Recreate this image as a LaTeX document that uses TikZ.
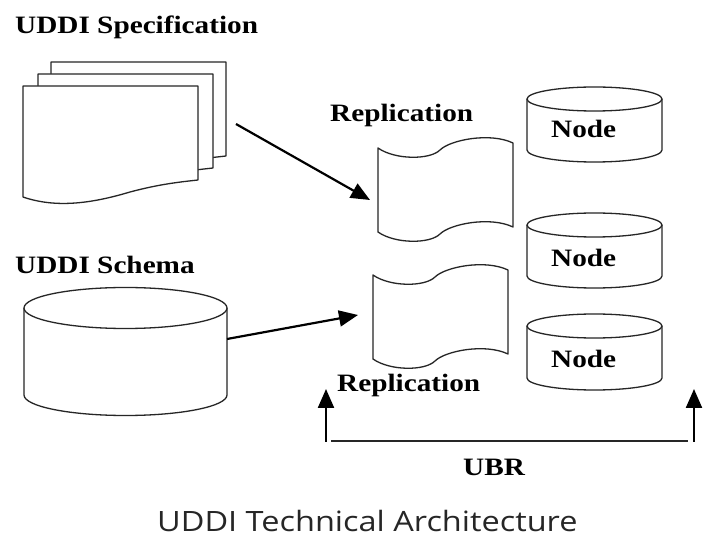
\documentclass[tikz,border=0pt]{standalone}
\usepackage{fontspec}
\setmainfont{Liberation Serif}
\newfontfamily\capfont{Open Sans}
\usetikzlibrary{arrows.meta}
\newcommand\sx[1]{\scalebox{1.17}[1]{#1}}
\newcommand\capsx[1]{\scalebox{1.16}[1]{#1}}
\begin{document}
\begin{tikzpicture}[x=1pt,y=-1pt,
  lbl/.style={anchor=base west,inner sep=0pt,font=\fontsize{25}{25}\selectfont\bfseries},
  shp/.style={draw=black!85,line width=1.3pt,fill=white,line join=round},
  arr/.style={draw=black,line width=2.2pt,-{Triangle[length=19pt,width=16pt]}},
  hit/.style={draw=none,inner sep=0pt,outer sep=0pt}
]
\useasboundingbox (0,0) rectangle (713,537);
\fill[white] (0,0) rectangle (713,537);

% ---- UDDI Specification: stacked pages
\foreach \dx/\dy in {28/-24,15/-12,0/0}{
  \begin{scope}[shift={(\dx,\dy)}]
    \draw[shp] (23,86) -- (23,197) .. controls (55,208) and (90,204) .. (130,192)
      .. controls (160,184) and (180,182) .. (198,180) -- (198,86) -- cycle;
  \end{scope}
}
\node[hit,minimum width=203pt,minimum height=146pt] (spec) at (124.5,135) {};
\node[lbl] (spectxt) at (15,34) {\sx{UDDI Specification}};

% ---- UDDI Schema cylinder
\draw[shp] (24,308) -- (24,395) arc[start angle=180,end angle=0,x radius=101.5,y radius=20.5] -- (227,308);
\draw[shp] (125.5,308) ellipse[x radius=101.5,y radius=20.5];
\node[hit,minimum width=203pt,minimum height=127pt] (schema) at (125.5,351.5) {};
\node[lbl] (schematxt) at (15,274) {\sx{UDDI Schema}};

% ---- Replication tapes
\foreach \dx/\dy in {0/0,-5/127}{
  \begin{scope}[shift={(\dx,\dy)}]
    \draw[shp] (378,148) .. controls (395,160) and (430,160) .. (440,150)
      .. controls (450,140) and (490,132) .. (513,143) -- (513,227)
      .. controls (490,216) and (450,224) .. (440,234)
      .. controls (430,244) and (395,244) .. (378,232) -- cycle;
  \end{scope}
}
\node[hit,minimum width=135pt,minimum height=103pt] (rep1) at (445.5,189.5) {};
\node[hit,minimum width=135pt,minimum height=103pt] (rep2) at (440.5,316.5) {};
\node[lbl] (rep1txt) at (330,122) {\sx{Replication}};
\node[lbl] (rep2txt) at (337,392) {\sx{Replication}};

% ---- Node cylinders
\foreach \ty/\by/\tb [count=\i] in {99/150/138,225/276/267,326/378/368}{
  \draw[shp] (527,\ty) -- (527,\by) arc[start angle=180,end angle=0,x radius=67.5,y radius=12] -- (662,\ty);
  \draw[shp] (594.5,\ty) ellipse[x radius=67.5,y radius=12];
  \node[lbl] (node\i) at (551,\tb) {\sx{Node}};
}

% ---- connectors
\draw[arr] ([shift={(10,-11)}]spec.east) -- ([shift={(-8,10.5)}]rep1.west);
\draw[arr] ([shift={(0,-12.5)}]schema.east) -- ([shift={(-15,-1.5)}]rep2.west);

% ---- UBR
\coordinate (ubrL) at (326,442);
\coordinate (ubrLt) at (326,389);
\coordinate (ubrR) at (694,442);
\coordinate (ubrRt) at (694,389);
\coordinate (lineL) at (331,441);
\coordinate (lineR) at (688,441);
\draw[arr] (ubrL) -- (ubrLt);
\draw[arr] (ubrR) -- (ubrRt);
\draw[draw=black!85,line width=1.6pt] (lineL) -- (lineR);
\node[lbl] (ubr) at (463,476) {\sx{UBR}};

% ---- caption
\node[anchor=base west,inner sep=0pt,text depth=0pt,text=black!85,font=\capfont\fontsize{28}{28}\selectfont] (caption) at (157,531) {\capsx{UDDI Technical Architecture}};
\end{tikzpicture}
\end{document}
